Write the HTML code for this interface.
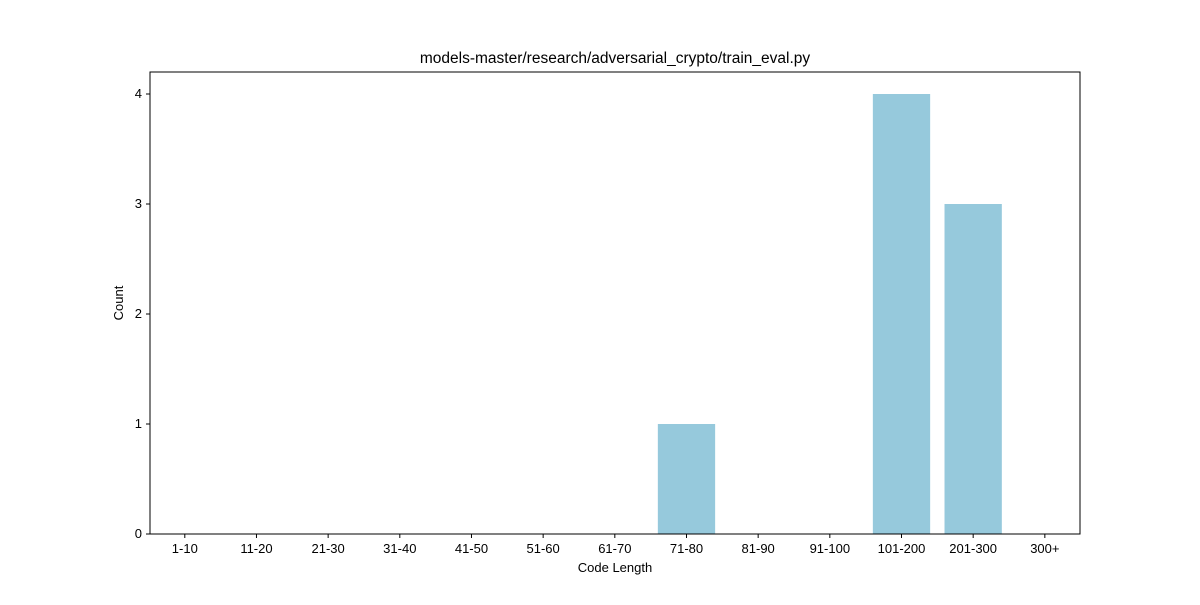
<!DOCTYPE html>
<html><head><meta charset="utf-8"><style>
body{margin:0;background:#fff;font-family:"Liberation Sans",sans-serif;}
svg text{font-family:"Liberation Sans",sans-serif;font-size:13px;fill:#000;}
</style></head><body>
<svg width="1200" height="600">
<g id="g"></g>
</svg>
<script>
const categories=["1-10","11-20","21-30","31-40","41-50","51-60","61-70","71-80","81-90","91-100","101-200","201-300","300+"];
const counts=[0,0,0,0,0,0,0,1,0,0,4,3,0];
const yTicks=[0,1,2,3,4];
const L=150,R=1080,T=72,B=534;
const step=71.67,c0=184.8,bw=57.3;
const x=i=>c0+i*step;
const y=v=>B-v*110;
const NS="http://www.w3.org/2000/svg";
const g=document.getElementById('g');
function mk(t,a,txt){const e=document.createElementNS(NS,t);for(const k in a)e.setAttribute(k,a[k]);if(txt!=null)e.textContent=txt;g.appendChild(e);return e;}
counts.forEach((v,i)=>{const r=mk('rect',{x:x(i)-bw/2,y:y(v),width:bw,height:B-y(v),fill:'#96c9dc'});

});
const f=mk('rect',{x:L,y:T,width:R-L,height:B-T,fill:'none',stroke:'#000','stroke-width':1});


categories.forEach((c,i)=>{mk('line',{x1:x(i),x2:x(i),y1:B,y2:B+4,stroke:'#000'});
const t=mk('text',{x:x(i),y:B+19,'text-anchor':'middle'},c);

});
yTicks.forEach(v=>{mk('line',{x1:L-4,x2:L,y1:y(v),y2:y(v),stroke:'#000'});
const t=mk('text',{x:L-8,y:y(v)+4,'text-anchor':'end'},v);

});
const xt=mk('text',{x:615,y:572,'text-anchor':'middle'},'Code Length');


const yt=mk('text',{x:123,y:303,'text-anchor':'middle',transform:'rotate(-90 123 303)'},'Count');


const tt=mk('text',{x:615,y:63,'text-anchor':'middle',style:'font-size:15.5px'},'models-master/research/adversarial_crypto/train_eval.py');


</script>
</body></html>
